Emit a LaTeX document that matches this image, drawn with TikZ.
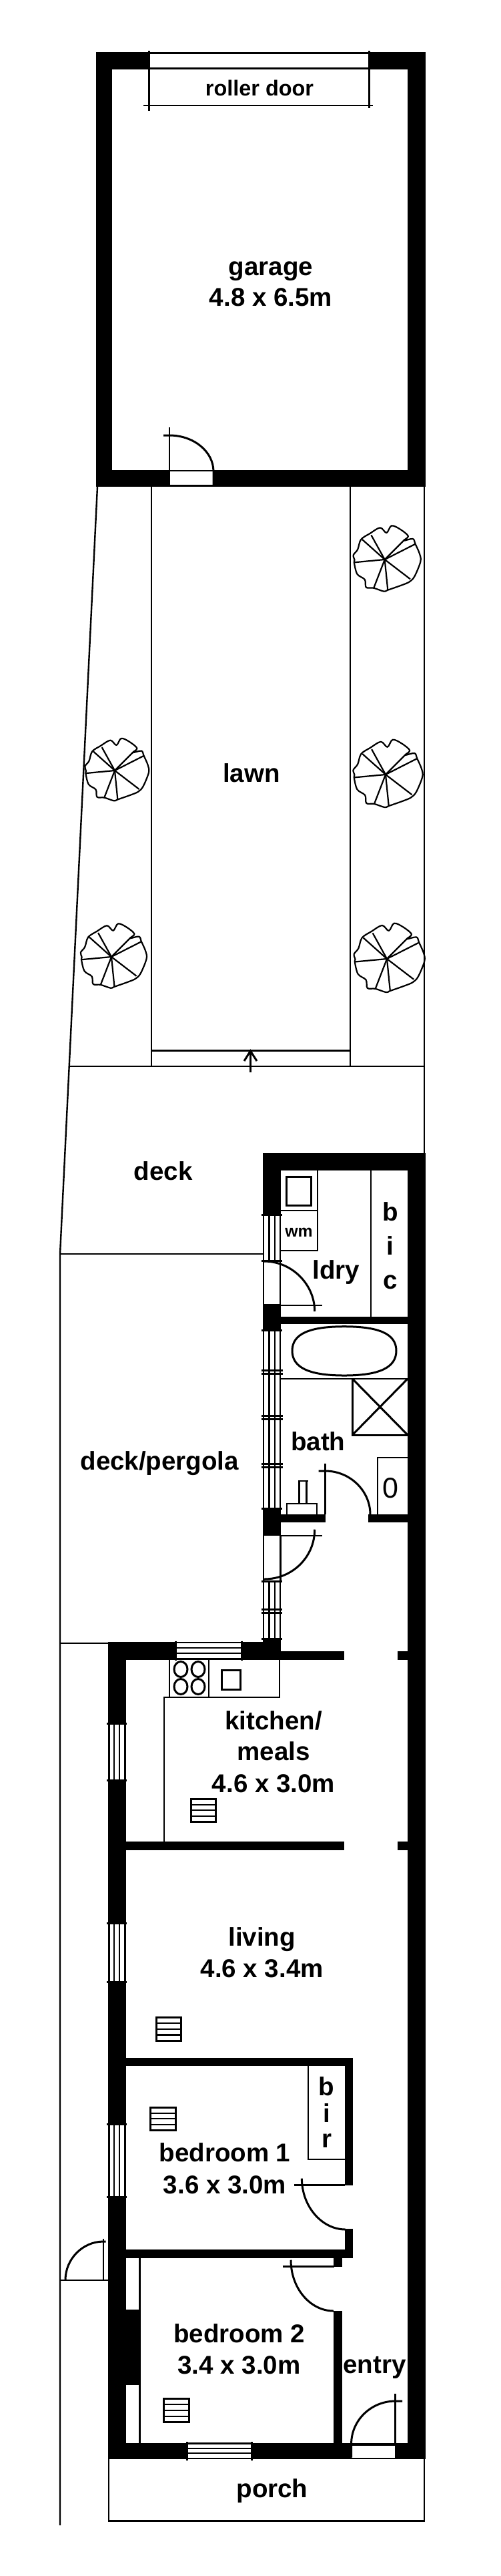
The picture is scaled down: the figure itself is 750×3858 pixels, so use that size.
\documentclass[tikz,border=0pt]{standalone}
\usepackage{fontspec}
\setmainfont{Liberation Sans}
\tikzset{
  wall/.style={fill=black,draw=none},
  gapfill/.style={fill=white,draw=none},
  thin line/.style={draw=black,line width=2.4pt},
  med line/.style={draw=black,line width=3pt},
  win line/.style={draw=black,line width=2.2pt},
  tick line/.style={draw=black,line width=3pt},
  plant line/.style={draw=black,line width=2.2pt,line join=round},
  lbl/.style={font=\bfseries\fontsize{38.5}{46}\selectfont,inner sep=0pt,anchor=base,text=black},
  small lbl/.style={lbl,font=\bfseries\fontsize{32.4}{38}\selectfont},
  wm lbl/.style={lbl,font=\bfseries\fontsize{24.8}{30}\selectfont},
  plant/.pic={
    \draw[plant line] plot[smooth cycle,tension=.55] coordinates {
      (2.7,-40) (10.3,-50.7) (23.7,-45) (35.2,-35) (28.3,-28.3) (42.1,-31) (45.9,-23.3)
      (52.4,-8.3) (53.6,3.3) (44.8,25) (37.1,33.3) (25.6,38.3) (4.6,45.7) (-1.1,47.7)
      (-16.5,42.7) (-27.9,41.7) (-29.9,30) (-41.3,21.7) (-45.9,4.3) (-45.2,0.7) (-47,-6.7)
      (-40.6,-15) (-35.6,-30) (-22.2,-39) (-6.9,-47.7)};
    \foreach \a/\b in {-33.7/-30,-20.3/-36.7,28.3/-28.3,45.9/-23.3,38.3/29.3,4.6/45.7,-16.5/42.7,-45.9/4.3}
      \draw[plant line] (0,0) -- (\a,\b);
  }
}
\newcommand{\winV}[4]{% x0 x1 y0 y1
  \fill[gapfill] (#1,#3) rectangle (#2,#4);
  \foreach \k in {0,1,2,3}
    \draw[win line] ({#1+(#2-#1)*\k/3},#3) -- ({#1+(#2-#1)*\k/3},#4);
  \draw[tick line] (#1-3.5,#3) -- (#2+3,#3);
  \draw[tick line] (#1-3.5,#4) -- (#2+3,#4);
}
\newcommand{\winH}[4]{% x0 x1 y0 y1
  \fill[gapfill] (#1,#3) rectangle (#2,#4);
  \foreach \k in {0,1,2,3}
    \draw[win line] (#1,{#3+(#4-#3)*\k/3}) -- (#2,{#3+(#4-#3)*\k/3});
  \draw[tick line] (#1,#3-2.5) -- (#1,#4+3);
  \draw[tick line] (#2,#3-2.5) -- (#2,#4+3);
}
\newcommand{\vent}[4]{% x0 x1 y0 y1
  \draw[med line] (#1,#3) rectangle (#2,#4);
  \foreach \k in {1,2,3}
    \draw[win line] (#1,{#3+(#4-#3)*\k/4}) -- (#2,{#3+(#4-#3)*\k/4});
}
\begin{document}
\begin{tikzpicture}[x=1pt,y=-1pt]
\useasboundingbox (0,0) rectangle (750,3858);
\fill[white] (0,0) rectangle (750,3858);

% ---------- garage
\fill[wall] (144,78) rectangle (638,729);
\fill[gapfill] (168,104) rectangle (611,704);
\fill[gapfill] (224,81) rectangle (553,102);
\fill[gapfill] (255,706) rectangle (320,726);
\draw[thin line] (224,80) -- (553,80);
\draw[med line] (224,102.7) -- (553,102.7);
\draw[thin line] (215,158) -- (559,158);
\draw[med line] (223.6,76) -- (223.6,166);
\draw[med line] (553,76) -- (553,162);
\node[small lbl] (rollerdoor) at (389,143.5) {roller door};
\node[lbl] (garageA) at (406,412.5) {garage};
\node[lbl] (garageB) at (406,458.5) {4.8 x 6.5m};
\draw[thin line] (254,640) -- (254,706);
\draw[thin line] (254,705) -- (320,705);
\draw[med line] (245,652) -- (254,652) .. controls (290,652) and (320,676) .. (320,706) -- (320,726);

% ---------- yard
\draw[thin line] (146,729) -- (90,1878) -- (90,3782);
\draw[thin line] (636,729) -- (636,1727);
\draw[thin line] (227,729) -- (227,1597);
\draw[thin line] (524.7,729) -- (524.7,1597);
\draw[thin line] (104,1597) -- (636,1597);
\draw[med line] (227,1573) -- (524.7,1573);
\draw[med line] (375.4,1606) -- (375.4,1575);
\draw[med line] (366,1589) -- (375.4,1574) -- (385,1589);
\node[lbl] (lawn) at (377,1171) {lawn};
\pic at (576.7,838) {plant};
\pic[scale=.95] at (172,1154) {plant};
\pic[scale=1.03] at (578,1160) {plant};
\pic[scale=.98] at (167,1433) {plant};
\pic[scale=1.05] at (580,1436) {plant};

% ---------- deck
\node[lbl] (deck) at (244.6,1767.7) {deck};
\draw[thin line] (90,1878) -- (394,1878);
\draw[thin line] (90,2461) -- (162,2461);
\node[lbl] (pergola) at (239.3,2201) {deck/pergola};

% ---------- solid walls of the house
\fill[wall] (394,1727) rectangle (637.5,1753);
\fill[wall] (611,1727) rectangle (637.5,3682.5);
\fill[wall] (394,1727) rectangle (421,1819);
\fill[wall] (394,1953) rectangle (421,1992);
\fill[wall] (421,1972) rectangle (611,1983);
\fill[wall] (394,2258) rectangle (421,2300);
\fill[wall] (421,2268) rectangle (488,2280);
\fill[wall] (552.3,2268) rectangle (611,2280);
\fill[wall] (394,2455) rectangle (421,2486);
\fill[wall] (162,2459) rectangle (421,2486);
\fill[wall] (421,2473) rectangle (516,2486);
\fill[wall] (595.5,2473) rectangle (611,2486);
\fill[wall] (162,2459) rectangle (189,3682.5);
\fill[wall] (189,2758) rectangle (516,2770.7);
\fill[wall] (595.5,2758) rectangle (611,2770.7);
\fill[wall] (189,3081.7) rectangle (529,3094);
\fill[wall] (517,3081.7) rectangle (529,3273);
\fill[wall] (517,3338) rectangle (529,3382);
\fill[wall] (189,3369.4) rectangle (529,3382);
\fill[wall] (500,3382) rectangle (512.5,3395.4);
\fill[wall] (500,3461) rectangle (512.5,3682.5);
\fill[wall] (162,3658.7) rectangle (637.5,3682.5);
\fill[wall] (189,3458.6) rectangle (210.5,3571.5);
\fill[gapfill] (527,3662.5) rectangle (591.7,3680.5);
\draw[thin line] (209.5,3382) -- (209.5,3659);

% ---------- windows
\winV{395.3}{420}{1819}{1888}
\winV{395.3}{420}{1992}{2259}
\foreach \y in {2052,2057.7,2120.7,2125.7,2192,2197}
  \draw[tick line] (391.8,\y) -- (424,\y);
\winV{395.3}{420}{2368}{2454}
\foreach \y in {2410,2415.7}
  \draw[tick line] (391.8,\y) -- (423,\y);
\winV{163.4}{187}{2581.7}{2666.7}
\winV{163.4}{187}{2880}{2968}
\winV{163.4}{187}{3181}{3290}
\winH{263}{362}{2460}{2484}
\winH{280}{377.7}{3659.5}{3681.7}

% ---------- laundry
\draw[thin line] (476,1753) -- (476,1872.7) -- (421,1872.7);
\draw[thin line] (421,1813) -- (476,1813);
\draw[med line] (429,1762.3) rectangle (466.7,1805);
\draw[thin line] (556,1753) -- (556,1972);
\node[wm lbl] (wm) at (448,1852) {wm};
\node[lbl] (bicB) at (585,1828) {b};
\node[lbl] (bicI) at (585,1879) {i};
\node[lbl] (bicC) at (585,1930) {c};
\node[lbl] (ldry) at (504,1915) {ldry};
\draw[win line] (395.3,1888) -- (395.3,1953);
\draw[win line] (420,1888) -- (420,1953);
\draw[thin line] (420,1955) -- (482.7,1955);
\draw[med line] (396,1889) .. controls (437,1889) and (471.7,1923) .. (471.7,1964);

% ---------- bathroom
\draw[med line] (438,2023) .. controls (438,1998) and (463,1986.7) .. (516,1986.7)
  .. controls (569,1986.7) and (594,1998) .. (594,2023)
  .. controls (594,2048) and (569,2060) .. (516,2060)
  .. controls (463,2060) and (438,2048) .. (438,2023) -- cycle;
\draw[thin line] (421,2065) -- (611,2065);
\draw[med line] (528.3,2065) -- (528.3,2149) -- (611,2149);
\draw[med line] (528.3,2065) -- (611,2149);
\draw[med line] (528.3,2149) -- (611,2065);
\draw[thin line] (566,2268) -- (566,2183) -- (611,2183);
\node[inner sep=0pt,anchor=base,font=\fontsize{43}{50}\selectfont] (cistern) at (585.7,2243) {0};
\node[lbl] (bath) at (476.7,2172.7) {bath};
\draw[thin line] (430,2268) -- (430,2251.7) -- (474.7,2251.7) -- (474.7,2268);
\draw[thin line] (448.3,2252) -- (448.3,2218) -- (461.7,2218);
\draw[thin line] (459.3,2218) -- (459.3,2252);
\draw[med line] (487.5,2192) -- (487.5,2268);
\draw[med line] (477.7,2203) -- (487.5,2203) .. controls (525,2203) and (555,2233) .. (555,2268);

% ---------- back door
\draw[thin line] (421,2300) -- (482.7,2300);
\draw[win line] (395,2300) -- (395,2368);
\draw[win line] (420.5,2300) -- (420.5,2368);
\draw[med line] (471.7,2290.7) .. controls (471.7,2332) and (438,2365) .. (396,2365);

% ---------- kitchen
\draw[thin line] (245.7,2758) -- (245.7,2541.7) -- (418.7,2541.7) -- (418.7,2486);
\draw[thin line] (254,2486) -- (254,2541.7);
\draw[thin line] (312.7,2486) -- (312.7,2541.7);
\foreach \cx/\cy in {271/2500,297/2500,271/2526,297/2526}
  \draw[med line] (\cx-10,\cy) .. controls (\cx-10,\cy-6.5) and (\cx-5.5,\cy-11.5) .. (\cx,\cy-11.5)
    .. controls (\cx+5.5,\cy-11.5) and (\cx+10,\cy-6.5) .. (\cx+10,\cy)
    .. controls (\cx+10,\cy+6.5) and (\cx+5.5,\cy+11.5) .. (\cx,\cy+11.5)
    .. controls (\cx-5.5,\cy+11.5) and (\cx-10,\cy+6.5) .. (\cx-10,\cy) -- cycle;
\draw[med line] (332.6,2501.7) rectangle (360.5,2530);
\node[lbl] (kitA) at (410,2590.7) {kitchen/};
\node[lbl] (kitB) at (410,2636.7) {meals};
\node[lbl] (kitC) at (410,2684) {4.6 x 3.0m};
\vent{286.7}{323.8}{2694}{2728.3}

% ---------- living
\node[lbl] (livA) at (392.7,2914) {living};
\node[lbl] (livB) at (392.7,2961.7) {4.6 x 3.4m};
\vent{234}{271.4}{3021.7}{3056}

% ---------- bedroom 1
\vent{225.4}{263}{3156}{3190.7}
\draw[thin line] (462,3094) -- (462,3234) -- (517,3234);
\node[lbl] (birB) at (489.5,3138) {b};
\node[lbl] (birI) at (489.5,3178) {i};
\node[lbl] (birR) at (489.5,3216.7) {r};
\node[lbl] (bedoneA) at (337,3237) {bedroom 1};
\node[lbl] (bedoneB) at (337,3285) {3.6 x 3.0m};
\draw[med line] (441,3272) -- (517,3272);
\draw[med line] (452.4,3262.6) .. controls (452.4,3304) and (482,3339) .. (518,3339);

% ---------- bedroom 2
\draw[med line] (423.7,3394.7) -- (501,3394.7);
\draw[med line] (436,3384.7) .. controls (436,3427) and (465,3461) .. (500,3461);
\node[lbl] (bedtwoA) at (358.6,3508) {bedroom 2};
\node[lbl] (bedtwoB) at (358.6,3555) {3.4 x 3.0m};
\vent{245.7}{283.6}{3592.5}{3627.7}

% ---------- entry and porch
\node[lbl] (entry) at (561.4,3554) {entry};
\draw[thin line] (512,3660) -- (592.8,3660);
\draw[med line] (592.8,3585) -- (592.8,3662);
\draw[med line] (603,3596) -- (592.8,3596) .. controls (556,3596) and (526.6,3625) .. (526.6,3660) -- (526.6,3680.5);
\draw[thin line] (163,3682) rectangle (636,3775.5);
\node[lbl] (porch) at (408,3740.6) {porch};

% ---------- side gate
\draw[thin line] (90,3415) -- (162,3415);
\draw[thin line] (155,3352.6) -- (155,3415);
\draw[med line] (158.5,3357) -- (155,3357) .. controls (124,3357) and (98,3383) .. (98,3415);
\end{tikzpicture}
\end{document}
